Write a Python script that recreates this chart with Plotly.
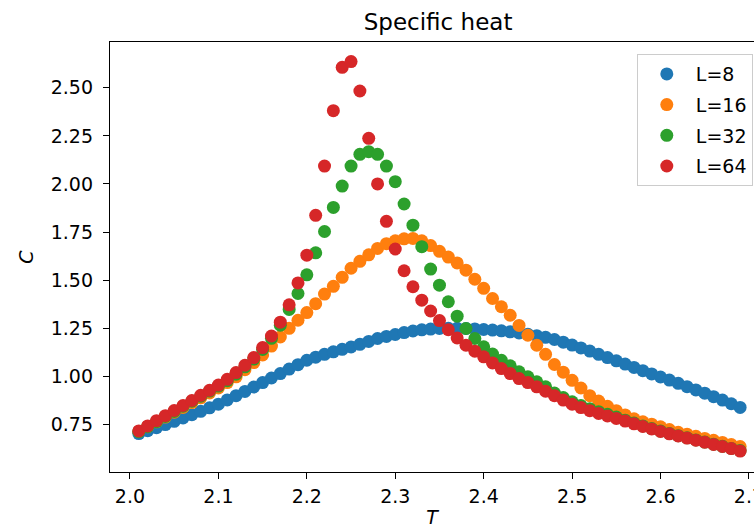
import plotly.graph_objects as go

T = [round(2.01 + 0.01 * i, 2) for i in range(69)]

C_L8 = [0.703, 0.718, 0.734, 0.750, 0.767, 0.784, 0.801, 0.819, 0.837, 0.856,
        0.878, 0.900, 0.922, 0.945, 0.968, 0.992, 1.015, 1.038, 1.061, 1.084,
        1.100, 1.115, 1.128, 1.141, 1.153, 1.167, 1.182, 1.197, 1.208, 1.218,
        1.228, 1.236, 1.242, 1.246, 1.249, 1.250, 1.250, 1.249, 1.247, 1.244,
        1.241, 1.237, 1.232, 1.226, 1.219, 1.212, 1.203, 1.192, 1.178, 1.163,
        1.148, 1.132, 1.115, 1.098, 1.081, 1.064, 1.047, 1.030, 1.013, 0.997,
        0.981, 0.964, 0.947, 0.930, 0.913, 0.895, 0.877, 0.858, 0.839]

C_L16 = [0.714, 0.739, 0.764, 0.789, 0.814, 0.839, 0.864, 0.889, 0.914, 0.940,
         0.968, 0.998, 1.035, 1.072, 1.112, 1.158, 1.205, 1.250, 1.292, 1.332,
         1.378, 1.428, 1.468, 1.515, 1.562, 1.598, 1.632, 1.665, 1.690, 1.705,
         1.715, 1.717, 1.705, 1.680, 1.650, 1.620, 1.590, 1.552, 1.505, 1.458,
         1.405, 1.362, 1.318, 1.265, 1.214, 1.162, 1.115, 1.062, 1.022, 0.980,
         0.940, 0.900, 0.872, 0.845, 0.822, 0.800, 0.780, 0.764, 0.752, 0.738,
         0.724, 0.710, 0.700, 0.689, 0.678, 0.668, 0.657, 0.646, 0.636]

C_L32 = [0.713, 0.739, 0.765, 0.792, 0.818, 0.845, 0.871, 0.897, 0.924, 0.950,
         0.978, 1.012, 1.050, 1.090, 1.140, 1.198, 1.266, 1.348, 1.431, 1.528,
         1.642, 1.753, 1.878, 1.989, 2.093, 2.154, 2.168, 2.154, 2.093, 2.012,
         1.896, 1.786, 1.674, 1.558, 1.474, 1.388, 1.313, 1.249, 1.197, 1.154,
         1.116, 1.084, 1.055, 1.024, 0.998, 0.972, 0.946, 0.914, 0.890, 0.868,
         0.849, 0.832, 0.817, 0.803, 0.789, 0.773, 0.758, 0.743, 0.729, 0.716,
         0.704, 0.692, 0.681, 0.670, 0.659, 0.648, 0.637, 0.626, 0.615]

C_L64 = [0.717, 0.743, 0.770, 0.796, 0.823, 0.849, 0.875, 0.902, 0.928, 0.955,
         0.985, 1.020, 1.058, 1.098, 1.150, 1.210, 1.282, 1.372, 1.486, 1.630,
         1.837, 2.093, 2.381, 2.606, 2.636, 2.483, 2.237, 2.000, 1.806, 1.662,
         1.549, 1.466, 1.396, 1.340, 1.290, 1.243, 1.200, 1.162, 1.131, 1.102,
         1.070, 1.041, 1.015, 0.989, 0.968, 0.946, 0.923, 0.900, 0.877, 0.856,
         0.838, 0.822, 0.808, 0.795, 0.782, 0.768, 0.754, 0.740, 0.727, 0.714,
         0.702, 0.691, 0.680, 0.669, 0.658, 0.647, 0.636, 0.625, 0.612]

series_names = ["L=8", "L=16", "L=32", "L=64"]
series_values = [C_L8, C_L16, C_L32, C_L64]
colors = ["#1f77b4", "#ff7f0e", "#2ca02c", "#d62728"]

x_ticks = [2.0, 2.1, 2.2, 2.3, 2.4, 2.5, 2.6, 2.7]
y_ticks = [0.75, 1.00, 1.25, 1.50, 1.75, 2.00, 2.25, 2.50]

FONT = "DejaVu Sans"

fig = go.Figure()
for name, vals, col in zip(series_names, series_values, colors):
    fig.add_trace(go.Scatter(
        x=T, y=vals, mode="markers", name=name, legendgroup=name,
        marker=dict(color=col, size=13, line=dict(width=0)),
    ))

fig.update_layout(
    width=754, height=528,
    margin=dict(l=110, r=0, t=42, b=56),
    paper_bgcolor="white", plot_bgcolor="white",
    font=dict(family=FONT, size=19, color="#000000"),
    title=dict(text="Specific heat", x=0.581, xref="container", xanchor="center",
               y=1 - 22 / 528, yref="container", yanchor="middle",
               font=dict(family=FONT, size=23, color="#000000")),
    showlegend=True,
    legend=dict(x=0.818, y=0.972, xanchor="left", yanchor="top",
                bgcolor="rgba(255,255,255,0.8)", bordercolor="#cccccc", borderwidth=1,
                font=dict(family=FONT, size=19, color="#000000"),
                tracegroupgap=3, itemwidth=48),
)

fig.update_xaxes(
    range=[1.9774, 2.7057], tickvals=x_ticks, ticktext=[f"{v:.1f}" for v in x_ticks],
    showgrid=False, zeroline=False, showline=True, linecolor="#000000", linewidth=1.3,
    mirror=True, ticks="outside", ticklen=6, tickwidth=1.3, tickcolor="#000000",
    ticklabelstandoff=1, ticklabeloverflow="allow",
    title=dict(text="<i>T</i>", standoff=24, font=dict(family=FONT, size=19)),
    automargin=False,
)
fig.update_yaxes(
    range=[0.5035, 2.7376], tickvals=y_ticks, ticktext=[f"{v:.2f}" for v in y_ticks],
    showgrid=False, zeroline=False, showline=True, linecolor="#000000", linewidth=1.3,
    mirror=False, ticks="outside", ticklen=6, tickwidth=1.3, tickcolor="#000000",
    ticklabelstandoff=6,
    title=dict(text="<i>C</i>", standoff=12, font=dict(family=FONT, size=19)),
    automargin=False,
)

fig.write_html("out.html", config={"displayModeBar": False},
               post_script="document.body.style.margin='0';")
